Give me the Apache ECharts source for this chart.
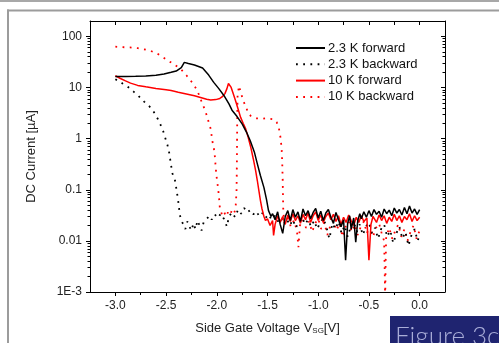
<!DOCTYPE html>
<html>
<head>
<meta charset="utf-8">
<script src="https://cdn.jsdelivr.net/npm/echarts@6/dist/echarts.min.js"></script>
<style>
html, body { margin: 0; padding: 0; background: #fff; }
#chart { width: 499px; height: 343px; }
</style>
</head>
<body>
<div id="chart"></div>
<script>
// 2.3 K forward sweep [V_SG (V), I (µA)]
const fwd23K = [
  [-3.00,16.5],[-2.90,16.5],[-2.80,16.6],[-2.70,16.8],[-2.60,17.4],[-2.52,18.3],[-2.45,19.8],[-2.40,21.0],
  [-2.35,24.5],[-2.32,31.0],[-2.28,29.5],[-2.22,27.5],[-2.14,24.0],[-2.08,17.5],[-2.03,12.6],[-1.98,9.5],
  [-1.93,7.0],[-1.88,4.8],[-1.85,3.6],[-1.80,2.7],[-1.75,1.94],[-1.70,1.25],[-1.67,0.91],[-1.63,0.55],
  [-1.60,0.32],[-1.57,0.19],[-1.535,0.11],[-1.51,0.065],[-1.49,0.039],[-1.465,0.030],
  [-1.450,0.034],[-1.425,0.026],[-1.400,0.037],[-1.375,0.021],[-1.350,0.014],[-1.325,0.030],[-1.300,0.039],
  [-1.275,0.025],[-1.250,0.041],[-1.225,0.029],[-1.200,0.037],[-1.175,0.024],[-1.150,0.042],[-1.125,0.031],
  [-1.100,0.039],[-1.075,0.027],[-1.050,0.036],[-1.025,0.043],[-1.000,0.028],[-0.975,0.038],[-0.950,0.025],
  [-0.925,0.035],[-0.900,0.041],[-0.875,0.029],[-0.850,0.022],[-0.825,0.036],[-0.800,0.026],[-0.775,0.019],
  [-0.750,0.026],[-0.730,0.0042],[-0.710,0.022],[-0.690,0.031],[-0.675,0.017],[-0.650,0.028],[-0.630,0.0094],
  [-0.610,0.025],[-0.590,0.034],[-0.575,0.027],[-0.550,0.037],[-0.525,0.029],[-0.500,0.039],[-0.475,0.030],
  [-0.450,0.041],[-0.425,0.033],[-0.400,0.038],[-0.375,0.029],[-0.350,0.042],[-0.325,0.034],[-0.300,0.040],
  [-0.275,0.031],[-0.250,0.044],[-0.225,0.035],[-0.200,0.041],[-0.175,0.032],[-0.150,0.045],[-0.125,0.034],
  [-0.100,0.048],[-0.075,0.035],[-0.050,0.042],[-0.025,0.033],[0.000,0.041]
];

// 2.3 K backward sweep
const bwd23K = [
  [-3.00,14.5],[-2.96,13.2],[-2.93,12.0],[-2.89,10.8],[-2.857,9.6],[-2.82,8.3],[-2.78,7.1],[-2.75,6.2],
  [-2.717,5.3],[-2.68,4.6],[-2.65,4.0],[-2.62,3.3],[-2.60,2.8],[-2.58,2.4],[-2.562,2.0],[-2.545,1.7],
  [-2.53,1.43],[-2.51,1.06],[-2.487,0.76],[-2.47,0.54],[-2.46,0.40],[-2.448,0.28],[-2.438,0.21],[-2.411,0.15],
  [-2.40,0.109],[-2.389,0.079],[-2.379,0.057],[-2.372,0.043],[-2.362,0.031],[-2.35,0.025],
  [-2.33,0.021],[-2.31,0.017],[-2.29,0.024],[-2.27,0.019],[-2.25,0.016],[-2.23,0.022],[-2.21,0.017],
  [-2.19,0.025],[-2.17,0.020],[-2.15,0.016],[-2.13,0.023],[-2.10,0.027],[-2.07,0.031],[-2.05,0.026],
  [-2.02,0.033],[-1.99,0.028],[-1.96,0.034],[-1.93,0.027],[-1.90,0.019],[-1.88,0.030],[-1.85,0.036],
  [-1.82,0.029],[-1.79,0.041],[-1.76,0.034],[-1.73,0.044],[-1.70,0.036],[-1.67,0.040],[-1.64,0.033],
  [-1.61,0.038],[-1.58,0.030],[-1.55,0.035],[-1.52,0.028],[-1.49,0.033],[-1.46,0.026],[-1.43,0.031],
  [-1.40,0.024],[-1.37,0.029],[-1.34,0.021],[-1.31,0.027],[-1.28,0.020],[-1.25,0.026],[-1.22,0.018],
  [-1.19,0.024],[-1.16,0.029],[-1.13,0.021],[-1.10,0.026],[-1.07,0.019],[-1.04,0.025],[-1.01,0.017],
  [-0.98,0.023],[-0.95,0.028],[-0.92,0.019],[-0.89,0.011],[-0.86,0.022],[-0.83,0.017],[-0.80,0.024],
  [-0.77,0.014],[-0.74,0.020],[-0.71,0.012],[-0.68,0.019],[-0.65,0.024],[-0.62,0.015],[-0.59,0.021],
  [-0.56,0.013],[-0.53,0.019],[-0.50,0.023],[-0.47,0.014],[-0.44,0.018],[-0.41,0.011],[-0.38,0.017],
  [-0.35,0.021],[-0.32,0.012],[-0.29,0.016],[-0.26,0.009],[-0.23,0.014],[-0.20,0.019],[-0.17,0.011],
  [-0.14,0.015],[-0.11,0.008],[-0.08,0.013],[-0.05,0.017],[-0.02,0.010],[0.00,0.013]
];

// 10 K forward sweep
const fwd10K = [
  [-3.00,17.0],[-2.95,15.0],[-2.90,13.5],[-2.85,12.2],[-2.78,11.0],[-2.70,10.3],[-2.60,9.6],[-2.50,9.0],
  [-2.45,8.7],[-2.38,8.1],[-2.30,7.5],[-2.22,6.9],[-2.16,6.4],[-2.10,5.9],[-2.06,5.7],[-2.01,5.8],
  [-1.97,6.1],[-1.945,6.6],[-1.92,7.6],[-1.90,9.5],[-1.885,12.0],[-1.86,10.2],[-1.84,7.8],[-1.815,5.5],
  [-1.79,3.8],[-1.765,2.6],[-1.74,2.0],[-1.715,1.55],[-1.69,1.05],[-1.665,0.68],[-1.64,0.40],[-1.617,0.237],
  [-1.60,0.15],[-1.585,0.096],[-1.57,0.062],[-1.555,0.043],[-1.535,0.030],[-1.52,0.025],
  [-1.500,0.027],[-1.475,0.020],[-1.450,0.025],[-1.440,0.0128],[-1.425,0.021],[-1.400,0.031],[-1.375,0.023],
  [-1.350,0.030],[-1.325,0.021],[-1.300,0.032],[-1.275,0.024],[-1.250,0.034],[-1.225,0.025],[-1.200,0.031],
  [-1.175,0.022],[-1.150,0.033],[-1.125,0.026],[-1.100,0.035],[-1.075,0.023],[-1.050,0.031],[-1.025,0.037],
  [-1.000,0.025],[-0.975,0.032],[-0.950,0.023],[-0.925,0.030],[-0.900,0.035],[-0.875,0.026],[-0.850,0.033],
  [-0.825,0.024],[-0.800,0.031],[-0.775,0.021],[-0.750,0.029],[-0.725,0.023],[-0.700,0.032],[-0.675,0.025],
  [-0.650,0.020],[-0.625,0.029],[-0.600,0.023],[-0.575,0.031],[-0.550,0.024],[-0.520,0.028],[-0.500,0.0042],
  [-0.480,0.021],[-0.460,0.030],[-0.425,0.023],[-0.400,0.032],[-0.375,0.025],[-0.350,0.031],[-0.325,0.022],
  [-0.300,0.029],[-0.275,0.024],[-0.250,0.033],[-0.225,0.025],[-0.200,0.031],[-0.175,0.023],[-0.150,0.030],
  [-0.125,0.026],[-0.100,0.034],[-0.075,0.024],[-0.050,0.031],[-0.025,0.025],[0.000,0.029]
];

// 10 K backward sweep
const bwd10K = [
  [-3.00,63],[-2.93,61.5],[-2.857,61],[-2.78,59],[-2.717,56],[-2.65,52],[-2.579,45],[-2.503,36],
  [-2.428,28.8],[-2.355,23],[-2.296,17],[-2.231,11.7],[-2.192,8.7],[-2.16,6.0],[-2.142,4.8],[-2.125,4.0],
  [-2.109,3.3],[-2.084,2.25],[-2.06,1.55],[-2.044,0.91],[-2.028,0.63],[-2.018,0.43],[-2.011,0.275],
  [-2.001,0.175],[-1.988,0.11],[-1.978,0.071],[-1.97,0.045],
  [-1.95,0.033],[-1.93,0.038],[-1.91,0.030],[-1.89,0.036],[-1.87,0.032],[-1.85,0.040],[-1.83,0.035],[-1.815,0.042],
  [-1.805,0.1],[-1.802,0.3],[-1.80,1.0],[-1.798,3.0],[-1.795,7.0],[-1.781,10.8],[-1.77,9.0],[-1.75,6.5],
  [-1.73,5.0],[-1.71,4.1],[-1.69,3.1],[-1.666,2.8],[-1.62,2.5],[-1.585,2.5],[-1.55,2.45],[-1.518,2.5],
  [-1.48,2.45],[-1.44,2.4],[-1.41,2.1],[-1.39,1.7],[-1.37,1.0],[-1.36,0.6],[-1.355,0.35],[-1.35,0.15],
  [-1.347,0.07],[-1.344,0.035],
  [-1.33,0.022],[-1.30,0.028],[-1.27,0.019],[-1.24,0.025],[-1.21,0.016],[-1.195,0.0075],[-1.18,0.020],
  [-1.15,0.026],[-1.12,0.018],[-1.09,0.024],[-1.06,0.015],[-1.03,0.022],[-1.00,0.027],[-0.97,0.017],
  [-0.94,0.023],[-0.91,0.013],[-0.88,0.020],[-0.85,0.025],[-0.82,0.016],[-0.79,0.022],[-0.76,0.012],
  [-0.73,0.019],[-0.70,0.024],[-0.67,0.015],[-0.64,0.021],[-0.61,0.013],[-0.58,0.019],[-0.55,0.024],
  [-0.52,0.014],[-0.49,0.020],[-0.46,0.012],[-0.43,0.018],[-0.40,0.022],[-0.37,0.013],[-0.35,0.010],
  [-0.345,0.003],[-0.34,0.0007],[-0.335,0.004],[-0.33,0.012],[-0.30,0.018],[-0.27,0.011],[-0.24,0.016],
  [-0.21,0.021],[-0.18,0.012],[-0.15,0.017],[-0.12,0.010],[-0.09,0.015],[-0.06,0.020],[-0.03,0.011],[0.00,0.016]
];

const seriesNames = ['2.3 K forward', '2.3 K backward', '10 K forward', '10 K backward'];
const xMajorTicks = [-3.0, -2.5, -2.0, -1.5, -1.0, -0.5, 0.0];
const xMinorTicks = [-2.75, -2.25, -1.75, -1.25, -0.75, -0.25];
const yDecades = [-3, -2, -1, 0, 1, 2];
const yDecadeLabels = ['1E-3', '0.01', '0.1', '1', '10', '100'];

const X_MIN = -3.25, X_MAX = 0.25;
const Y_MIN = -3, Y_MAX = Math.log10(200);

// 对数轴的次刻度 (2..9 × 10^n)
const yMinorTicks = [];
yDecades.forEach(n => {
  for (let k = 2; k <= 9; k++) {
    const v = n + Math.log10(k);
    if (v < Y_MAX - 1e-6) yMinorTicks.push(v);
  }
});

const toLog = pts => pts.map(p => [p[0], Math.log10(p[1])]);

const font = 'Liberation Sans, Arial, sans-serif';
const axisColor = '#000';

// 坐标轴: 主轴带标签, 其余只画刻度 (线可隐藏), onZero 一律关闭
function axisDef(kind, position, tickValues, tickLen, inside, lineVisible, extra) {
  return Object.assign({
    type: 'value',
    min: kind === 'x' ? X_MIN : Y_MIN,
    max: kind === 'x' ? X_MAX : Y_MAX,
    position: position,
    splitLine: { show: false },
    axisLine: { show: true, onZero: false, lineStyle: { color: axisColor, width: 1, opacity: lineVisible ? 1 : 0 } },
    axisTick: { show: true, inside: inside, length: tickLen, customValues: tickValues, lineStyle: { color: axisColor } },
    axisLabel: { show: false }
  }, extra || {});
}

const chart = echarts.init(document.getElementById('chart'));

const option = {
  animation: false,
  backgroundColor: '#fff',
  grid: { left: 90, top: 21, right: 54, bottom: 51 },
  legend: {
    data: seriesNames,
    orient: 'vertical',
    left: 295, top: 41,
    padding: 0,
    itemWidth: 29, itemHeight: 10, itemGap: 2.3,
    itemStyle: { color: 'rgba(0,0,0,0)', borderWidth: 0, opacity: 0 },
    textStyle: { fontFamily: font, fontSize: 13, color: '#111', lineHeight: 14, padding: [0, 0, 0, -2] }
  },
  xAxis: [
    axisDef('x', 'bottom', xMajorTicks, 4, false, true, {
      axisLabel: {
        show: true, customValues: xMajorTicks, margin: 8,
        fontFamily: font, fontSize: 12, color: '#222',
        formatter: v => v.toFixed(1)
      },
      name: 'Side Gate Voltage V{sub|SG}[V]',
      nameLocation: 'middle', nameGap: 29,
      nameTextStyle: {
        fontFamily: font, fontSize: 13, color: '#222',
        rich: { sub: { fontFamily: font, fontSize: 8, color: '#222', verticalAlign: 'bottom', padding: [6, 0, 0, 0] } }
      }
    }),
    axisDef('x', 'bottom', xMinorTicks, 3, false, false),
    axisDef('x', 'top', xMajorTicks.concat(xMinorTicks), 4, true, true)
  ],
  yAxis: [
    axisDef('y', 'left', yDecades, 4, false, true, {
      axisLabel: {
        show: true, customValues: yDecades, margin: 8,
        fontFamily: font, fontSize: 12, color: '#222',
        formatter: v => yDecadeLabels[yDecades.indexOf(Math.round(v))]
      },
      name: 'DC Current [µA]',
      nameLocation: 'middle', nameGap: 52,
      nameTextStyle: { fontFamily: font, fontSize: 13, color: '#222' }
    }),
    axisDef('y', 'left', yMinorTicks, 2.5, false, false),
    axisDef('y', 'right', yDecades, 4, true, true),
    axisDef('y', 'right', yMinorTicks, 2.5, true, false)
  ],
  series: [
    { name: seriesNames[0], type: 'line', data: toLog(fwd23K), showSymbol: false, symbol: 'none',
      color: '#000', lineStyle: { color: '#000', width: 1.5 }, z: 4 },
    { name: seriesNames[1], type: 'line', data: toLog(bwd23K), showSymbol: false, symbol: 'none',
      color: '#000', lineStyle: { color: '#000', width: 1.8, type: [1.8, 5.4] }, z: 2 },
    { name: seriesNames[2], type: 'line', data: toLog(fwd10K), showSymbol: false, symbol: 'none',
      color: '#f00', lineStyle: { color: '#f00', width: 1.5 }, z: 3 },
    { name: seriesNames[3], type: 'line', data: toLog(bwd10K), showSymbol: false, symbol: 'none',
      color: '#f00', lineStyle: { color: '#f00', width: 1.8, type: [1.8, 5.4] }, z: 1 }
  ],
  graphic: [
    // 页面边框和标签
    { type: 'rect', shape: { x: 0, y: 0, width: 499, height: 2 }, style: { fill: '#a8a8a8' }, silent: true },
    { type: 'rect', shape: { x: 7, y: 9.5, width: 492, height: 2 }, style: { fill: '#9c9c9c' }, silent: true },
    { type: 'rect', shape: { x: 7, y: 9.5, width: 2, height: 334 }, style: { fill: '#9c9c9c' }, silent: true },
    { type: 'rect', shape: { x: 390, y: 316, width: 109, height: 27 }, style: { fill: '#1f2470' }, silent: true, z: 10 },
    { type: 'text', x: 395, y: 350, silent: true, z: 11,
      style: { text: 'Figure 3c', fontFamily: 'Lato, Open Sans, sans-serif', fontWeight: 300, fontSize: 26,
        fill: '#a9add8', align: 'left', verticalAlign: 'bottom' } }
  ]
};

chart.setOption(option);
</script>
</body>
</html>
